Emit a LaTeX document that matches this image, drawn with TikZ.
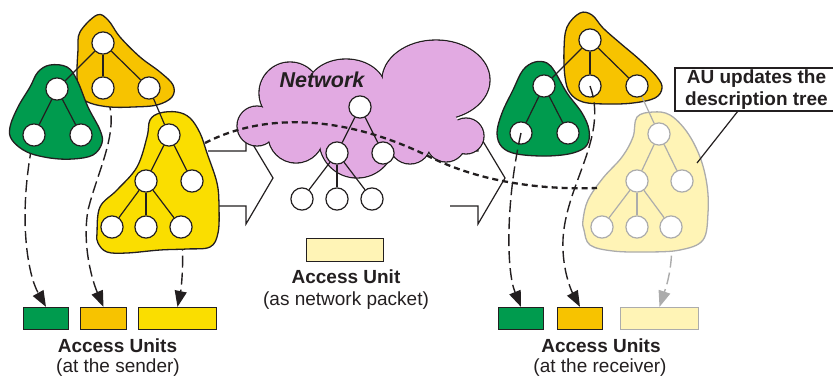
\documentclass[tikz,border=0pt]{standalone}
\usepackage{fontspec}
\setmainfont{Liberation Sans}
\usetikzlibrary{arrows.meta}
\pgfdeclarelayer{back}
\pgfdeclarelayer{blobs}
\pgfdeclarelayer{edges}
\pgfdeclarelayer{front}
\pgfsetlayers{back,blobs,edges,main,front}
\definecolor{cgreen}{RGB}{0,155,78}
\definecolor{corange}{RGB}{247,195,0}
\definecolor{cyellow}{RGB}{250,222,0}
\definecolor{clilac}{RGB}{226,170,226}
\definecolor{clight}{RGB}{255,244,182}
\definecolor{cline}{RGB}{35,31,32}
\definecolor{cfaint}{RGB}{172,172,172}
\begin{document}
\begin{tikzpicture}[x=1pt,y=-1pt,
  tn/.style={circle,draw=cline,fill=white,line width=1.2pt,minimum size=22.2pt,inner sep=0pt},
  ltn/.style={tn,draw=cfaint},
  tedge/.style={cline,line width=1.2pt},
  ledge/.style={cfaint,line width=1.2pt},
  blob/.style={draw=cline,line width=1.3pt},
  lblob/.style={draw=cfaint,line width=1.3pt,fill=clight},
  aubox/.style={draw=cline,line width=1.2pt,minimum height=22pt,inner sep=0pt},
  dashconn/.style={cline,line width=1.4pt,dash pattern=on 12pt off 5pt,-{Triangle[length=16pt,width=12pt]}},
  bigarrow/.style={draw=cline,line width=1.2pt,fill=white,line join=miter},
  dotline/.style={cline,line width=2.3pt,dash pattern=on 6pt off 4pt},
  cloudlobe/.style={draw=cline,line width=1.3pt,fill=clilac},
  lbl/.style={font=\bfseries\fontsize{19}{22}\selectfont,anchor=base,text=cline},
  sublbl/.style={font=\fontsize{19}{22}\selectfont,anchor=base,text=cline}]
\useasboundingbox (0,0) rectangle (833,378);

% ---------- tree nodes ----------
% sender orange
\node[tn] (so0) at (103,43) {};
\node[tn] (so1) at (103,88) {};
\node[tn] (so2) at (149,88) {};
% sender green
\node[tn] (sg0) at (57,89) {};
\node[tn] (sg1) at (34,135) {};
\node[tn] (sg2) at (81,135) {};
% sender yellow
\node[tn] (sy0) at (169,135) {};
\node[tn] (sy1) at (146,181) {};
\node[tn] (sy2) at (192,181) {};
\node[tn] (sy3) at (112,227) {};
\node[tn] (sy4) at (146,227) {};
\node[tn] (sy5) at (181,227) {};
% network tree
\node[tn] (n0) at (360,107) {};
\node[tn] (n1) at (337,153) {};
\node[tn] (n2) at (383,153) {};
\node[tn] (n3) at (302,199) {};
\node[tn] (n4) at (337,199) {};
\node[tn] (n5) at (372,199) {};
% receiver orange
\node[tn] (ro0) at (590,40) {};
\node[tn] (ro1) at (590,86) {};
\node[tn] (ro2) at (637,86) {};
% receiver green
\node[tn] (rg0) at (544,86) {};
\node[tn] (rg1) at (521,133) {};
\node[tn] (rg2) at (568,133) {};
% receiver light tree
\node[ltn] (lt0) at (659,134) {};
\node[ltn] (lt1) at (637,181) {};
\node[ltn] (lt2) at (682,181) {};
\node[ltn] (lt3) at (602,227) {};
\node[ltn] (lt4) at (637,227) {};
\node[ltn] (lt5) at (671,227) {};

% ---------- access unit boxes ----------
\node[aubox,fill=cgreen,minimum width=45pt] (rsg) at (46,318.5) {};
\node[aubox,fill=corange,minimum width=46pt] (rso) at (103.5,318.5) {};
\node[aubox,fill=cyellow,minimum width=78pt] (rsy) at (177.5,318.5) {};
\node[aubox,fill=clight,minimum width=77pt,minimum height=23pt] (pk) at (345,250) {};
\node[aubox,fill=cgreen,minimum width=45pt] (rrg) at (521,318.5) {};
\node[aubox,fill=corange,minimum width=45pt] (rro) at (580,318.5) {};
\node[aubox,draw=cfaint,fill=clight,minimum width=78pt] (rrl) at (659.5,318.5) {};

% ---------- texts ----------
\node[lbl] (t1) at (117.5,352) {Access Units};
\node[sublbl] (t2) at (118,372) {(at the sender)};
\node[lbl] (t3) at (346,283) {Access Unit};
\node[sublbl] (t4) at (346,305) {(as network packet)};
\node[lbl] (t5) at (601,352) {Access Units};
\node[sublbl] (t6) at (600,372) {(at the receiver)};
\node[font=\bfseries\itshape\fontsize{21.5}{24}\selectfont,anchor=base,text=cline] (net) at (322,87) {Network};

\node[draw=cline,line width=1.2pt,fill=white,align=center,inner sep=0pt,
      minimum width=163pt,minimum height=43pt,
      font=\bfseries\fontsize{19}{21.5}\selectfont,text=cline] (aub) at (756.5,89.5)
      {AU updates the\\description tree};
\coordinate (aup) at (738,111);
\coordinate (lbe) at (697,163);
\draw[tedge] (aup) -- (lbe);

% ---------- back layer ----------
\begin{pgfonlayer}{back}
  \draw[dashconn] (sg1) .. controls (18,220) and (28,275) .. (rsg.north);
  \draw[dashconn] (so1) .. controls (120,130) and (98,170) .. (88,210)
                        .. controls (82,245) and (92,280) .. (rso.north);
  \draw[dashconn] (sy5) .. controls (184,265) and (181,290) .. (rsy.north);
  \draw[dashconn,cfaint] (lt5) .. controls (673,270) and (665,290) .. (rrl.north);
  % big hollow arrows
  \draw[bigarrow] (208,151) -- (246,151) -- (246,133) -- (273,178) -- (246,224) -- (246,206) -- (208,206);
  \draw[bigarrow] (450,151) -- (478,151) -- (478,133) -- (505,178) -- (478,224) -- (478,206) -- (450,206);
\end{pgfonlayer}

% ---------- blobs and cloud ----------
\begin{pgfonlayer}{blobs}
  \path[blob,fill=corange] plot[smooth cycle,tension=0.6] coordinates
    {(80,32) (97,15) (108,20) (120,37) (140,57) (160,72) (173,85) (172,97) (157,105)
     (133,107) (110,107) (90,103) (80,95) (77,77) (78,50)};
  \path[blob,fill=cgreen] plot[smooth cycle,tension=0.6] coordinates
    {(50,65) (67,67) (77,80) (88,107) (100,130) (102,143) (93,155) (73,159) (50,158)
     (27,152) (12,140) (10,127) (18,107) (30,87) (38,72)};
  \path[blob,fill=cyellow] plot[smooth cycle,tension=0.6] coordinates
    {(160,113) (177,112) (190,118) (200,133) (207,153) (217,183) (219,207) (218,233)
     (210,247) (187,249) (160,250) (127,253) (107,252) (98,243) (97,233) (100,207)
     (117,190) (137,167) (147,137) (150,120)};
  \path[blob,fill=corange] plot[smooth cycle,tension=0.6] coordinates
    {(567,27) (580,13) (592,15) (603,28) (620,43) (640,60) (657,77) (662,88) (655,98)
     (633,103) (607,104) (583,102) (570,93) (565,77) (564,50)};
  \path[blob,fill=cgreen] plot[smooth cycle,tension=0.6] coordinates
    {(523,70) (535,62) (547,63) (555,72) (567,93) (582,113) (589,130) (587,145)
     (573,153) (547,156) (517,154) (502,147) (497,133) (502,113) (513,90)};
  \path[lblob] plot[smooth cycle,tension=0.6] coordinates
    {(637,117) (653,112) (670,115) (687,132) (700,157) (707,185) (708,213) (703,240)
     (680,250) (647,252) (613,251) (590,245) (584,230) (583,220) (588,200) (603,178)
     (622,157) (633,137)};
  % cloud
  \path[cloudlobe] (257,126) circle[radius=20];
  \path[cloudlobe] (290,93) circle[radius=31];
  \path[cloudlobe] (346,90) ellipse[x radius=40,y radius=31];
  \path[cloudlobe] (436,80) ellipse[x radius=54,y radius=40];
  \path[cloudlobe] (466,136) circle[radius=18];
  \path[cloudlobe] (446,142) circle[radius=20];
  \path[cloudlobe] (410,143) circle[radius=21];
  \path[cloudlobe] (357,140) circle[radius=38];
  \path[cloudlobe] (296,135) circle[radius=28];
  \fill[clilac] (257,126) circle[radius=19.3];
  \fill[clilac] (290,93) circle[radius=30.3];
  \fill[clilac] (346,90) ellipse[x radius=39.3,y radius=30.3];
  \fill[clilac] (436,80) ellipse[x radius=53.3,y radius=39.3];
  \fill[clilac] (466,136) circle[radius=17.3];
  \fill[clilac] (446,142) circle[radius=19.3];
  \fill[clilac] (410,143) circle[radius=20.3];
  \fill[clilac] (357,140) circle[radius=37.3];
  \fill[clilac] (296,135) circle[radius=27.3];
  \fill[clilac] (360,115) ellipse[x radius=60,y radius=35];
  \fill[clilac] (257,126) -- (290,93) -- (346,90) -- (436,80) -- (466,136) -- (446,142)
     -- (410,143) -- (357,140) -- (296,135) -- cycle;
\end{pgfonlayer}

% ---------- tree edges ----------
\begin{pgfonlayer}{edges}
  \draw[tedge] (so0) -- (sg0);
  \draw[tedge] (so0) -- (so1);
  \draw[tedge] (so0) -- (so2);
  \draw[tedge] (so2) -- (sy0);
  \draw[tedge] (sg0) -- (sg1);
  \draw[tedge] (sg0) -- (sg2);
  \draw[tedge] (sy0) -- (sy1);
  \draw[tedge] (sy0) -- (sy2);
  \draw[tedge] (sy1) -- (sy3);
  \draw[tedge] (sy1) -- (sy4);
  \draw[tedge] (sy1) -- (sy5);
  \draw[tedge] (n0) -- (n1);
  \draw[tedge] (n0) -- (n2);
  \draw[tedge] (n1) -- (n3);
  \draw[tedge] (n1) -- (n4);
  \draw[tedge] (n1) -- (n5);
  \draw[tedge] (ro0) -- (rg0);
  \draw[tedge] (ro0) -- (ro1);
  \draw[tedge] (ro0) -- (ro2);
  \draw[tedge] (rg0) -- (rg1);
  \draw[tedge] (rg0) -- (rg2);
  \draw[ledge] (ro2) -- (lt0);
  \draw[ledge] (lt0) -- (lt1);
  \draw[ledge] (lt0) -- (lt2);
  \draw[ledge] (lt1) -- (lt3);
  \draw[ledge] (lt1) -- (lt4);
  \draw[ledge] (lt1) -- (lt5);
\end{pgfonlayer}

% ---------- front layer ----------
\begin{pgfonlayer}{front}
  \coordinate (dl0) at (205,143);
  \coordinate (dl1) at (597,188);
  \draw[dotline] (dl0) .. controls (265,112) and (345,115) .. (430,157)
                       .. controls (480,181.7) and (540,190) .. (dl1);
  \draw[dashconn] (rg1.center) .. controls (506,200) and (506,270) .. (rrg.north);
  \draw[dashconn] (ro1.center) .. controls (610,140) and (560,190) .. (563,250)
                              .. controls (564,275) and (572,292) .. (rro.north);
\end{pgfonlayer}
\end{tikzpicture}
\end{document}
